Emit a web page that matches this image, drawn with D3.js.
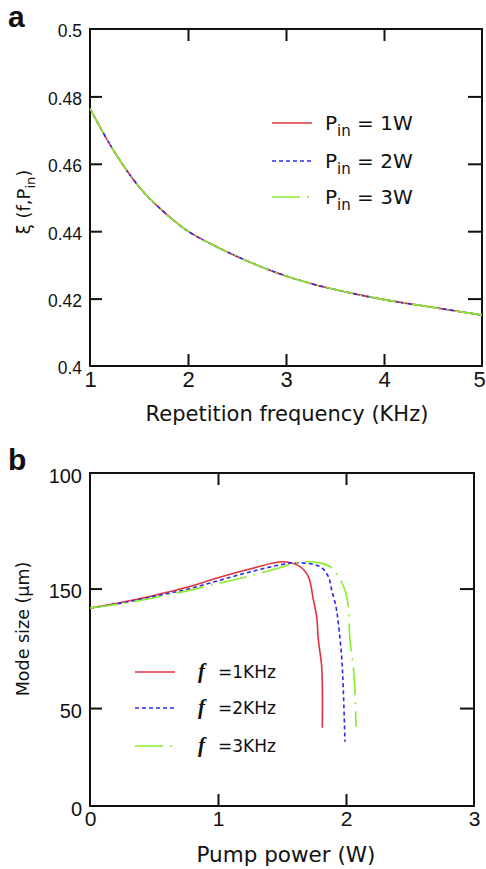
<!DOCTYPE html>
<meta charset="utf-8">
<style>
    body { margin: 0; background: #fff; }
    text { font-family: "DejaVu Sans", sans-serif; fill: #111; }
    .tick text { font-family: "Liberation Sans", Arial, sans-serif; }
    .tick line { stroke: #111; stroke-width: 2; }
    .frame { fill: none; stroke: #111; stroke-width: 2; }
</style>
<body>
<script src="https://cdn.jsdelivr.net/npm/d3@7"></script>
<script>
// panel a: xi(f, Pin) vs repetition frequency
var freq = [1.0, 1.25, 1.5, 1.75, 2.0, 2.25, 2.5, 2.75, 3.0, 3.25, 3.5, 3.75, 4.0, 4.5, 5.0];
var xiP1 = [0.4764, 0.4635, 0.4532, 0.4458, 0.4400, 0.4360, 0.4325, 0.4294, 0.4267, 0.4245, 0.4227, 0.4211, 0.4197, 0.4174, 0.4151];
var xiP2 = [0.4764, 0.4635, 0.4532, 0.4458, 0.4400, 0.4360, 0.4325, 0.4294, 0.4267, 0.4245, 0.4227, 0.4211, 0.4197, 0.4174, 0.4151];
var xiP3 = [0.4764, 0.4635, 0.4532, 0.4458, 0.4400, 0.4360, 0.4325, 0.4294, 0.4267, 0.4245, 0.4227, 0.4211, 0.4197, 0.4174, 0.4151];
var legendA = ["1W", "2W", "3W"];
var xTicksA = [1, 2, 3, 4, 5];
var yTicksA = [0.4, 0.42, 0.44, 0.46, 0.48, 0.5];

// panel b: mode size vs pump power
var powerF1 = [0, 0.25, 0.5, 0.75, 1.0, 1.25, 1.51, 1.641, 1.706, 1.745, 1.771, 1.784, 1.810, 1.815];
var modeF1 = [101, 104, 107.5, 111.5, 116.5, 121, 124.7, 122.2, 117.1, 105.2, 96.6, 84.7, 71.1, 39.9];
var powerF2 = [0, 0.25, 0.5, 0.75, 1.0, 1.25, 1.5, 1.615, 1.797, 1.862, 1.888, 1.922, 1.940, 1.966, 1.979, 1.992];
var modeF2 = [101, 103.6, 107, 110.5, 115, 119.5, 123.3, 124.2, 122.2, 117.1, 110.3, 101.7, 93.3, 76.2, 59.2, 32.8];
var powerF3 = [0, 0.25, 0.5, 0.75, 1.0, 1.25, 1.5, 1.6, 1.706, 1.784, 1.875, 1.940, 1.992, 2.018, 2.031, 2.057, 2.070, 2.078];
var modeF3 = [101, 103.3, 106.3, 109.7, 113.5, 117.5, 122, 124.2, 124.7, 124.2, 122.2, 117.1, 110.3, 101.7, 84.7, 71.1, 59.2, 40.5];
var legendB = ["=1KHz", "=2KHz", "=3KHz"];
var xTicksB = [0, 1, 2, 3];
var yTicksB = [0, 50, 111, 170];
var yTickLabelsB = ["0", "50", "150", "100"];

var colors = ["#e2323c", "#2a2aee", "#86ee2a"];
var dashes = [null, "4,3", "28,7,2,7"];

var svg = d3.select("body").append("svg")
    .attr("width", 486)
    .attr("height", 869);

function panel(o) {
    var x = d3.scaleLinear().domain(o.xDomain).range([o.left, o.right]);
    var y = d3.scaleLinear().domain(o.yDomain).range([o.bottom, o.top]);
    var g = svg.append("g");
    var inner = function (v) { return v > o.xDomain[0] && v < o.xDomain[1]; };
    var innerY = function (v) { return v > o.yDomain[0] && v < o.yDomain[1]; };

    // inward ticks on all four sides
    var bx = g.append("g").attr("transform", "translate(0," + o.bottom + ")")
        .call(d3.axisBottom(x).tickValues(o.xTicks).tickSize(-12).tickPadding(4)
            .tickFormat(d3.format("d")));
    bx.selectAll(".tick text").style("font-size", o.xFont + "px").attr("dy", "0.75em");
    bx.selectAll(".tick text").filter(function (d) { return d === o.xDomain[1]; })
        .attr("dx", o.lastDx || 0);
    bx.selectAll(".tick line").filter(function (d) { return !inner(d); }).remove();

    g.append("g").attr("transform", "translate(0," + o.top + ")")
        .call(d3.axisTop(x).tickValues(o.xTicks.filter(inner)).tickSize(-12).tickFormat(""));

    var ly = g.append("g").attr("transform", "translate(" + o.left + ",0)")
        .call(d3.axisLeft(y).tickValues(o.yTicks).tickSize(-12).tickPadding(8)
            .tickFormat(function (d, i) { return o.yLabels[i]; }));
    ly.selectAll(".tick text").style("font-size", o.yFont + "px").attr("dy", "0.45em");
    ly.selectAll(".tick line").filter(function (d) { return !innerY(d); }).remove();

    g.append("g").attr("transform", "translate(" + o.right + ",0)")
        .call(d3.axisRight(y).tickValues(o.yTicks.filter(innerY)).tickSize(-14).tickFormat(""));

    g.selectAll(".domain").remove();

    g.append("rect").attr("class", "frame")
        .attr("x", o.left).attr("y", o.top)
        .attr("width", o.right - o.left).attr("height", o.bottom - o.top);

    var line = d3.line()
        .x(function (d) { return x(d[0]); })
        .y(function (d) { return y(d[1]); })
        .curve(o.curve);

    o.series.forEach(function (s, i) {
        g.append("path")
            .attr("d", line(d3.zip(s[0], s[1])))
            .attr("fill", "none")
            .attr("stroke", colors[i])
            .attr("stroke-width", 1.6)
            .attr("stroke-dasharray", dashes[i]);
    });
    return g;
}

// ---- panel a ----
var ga = panel({
    left: 90, right: 482, top: 29, bottom: 366,
    xDomain: [1, 5], yDomain: [0.4, 0.5],
    xTicks: xTicksA, yTicks: yTicksA,
    yLabels: yTicksA.map(function (d) { return String(+d.toFixed(2)); }),
    xFont: 22, yFont: 17.5, lastDx: -3,
    curve: d3.curveMonotoneX,
    series: [[freq, xiP1], [freq, xiP2], [freq, xiP3]]
});

legendA.forEach(function (t, i) {
    var yy = [123, 161, 197][i];
    ga.append("line").attr("x1", 272).attr("x2", 312).attr("y1", yy).attr("y2", yy)
        .attr("stroke", colors[i]).attr("stroke-width", 1.6)
        .attr("stroke-dasharray", dashes[i]);
    var tt = ga.append("text").attr("x", 325).attr("y", yy + 7).style("font-size", "20px");
    tt.append("tspan").text("P");
    tt.append("tspan").attr("dy", 6).style("font-size", "15px").text("in");
    tt.append("tspan").attr("dy", -6).text(" = " + t);
});

var ta = ga.append("text").attr("transform", "translate(30,202) rotate(-90)")
    .attr("text-anchor", "middle").style("font-size", "18px");
ta.append("tspan").text("ξ (f,P");
ta.append("tspan").attr("dy", 5).style("font-size", "13px").text("in");
ta.append("tspan").attr("dy", -5).text(")");

ga.append("text").attr("x", 287).attr("y", 421).attr("text-anchor", "middle")
    .style("font-size", "21px").text("Repetition frequency (KHz)");

svg.append("text").attr("x", 8).attr("y", 27)
    .style("font-family", "Liberation Sans, Arial, sans-serif")
    .style("font-weight", "bold").style("font-size", "30px").text("a");

// ---- panel b ----
var gb = panel({
    left: 90, right: 474, top: 473, bottom: 806,
    xDomain: [0, 3], yDomain: [0, 170],
    xTicks: xTicksB, yTicks: yTicksB, yLabels: yTickLabelsB,
    xFont: 21, yFont: 20,
    curve: d3.curveCatmullRom.alpha(0.5),
    series: [[powerF1, modeF1], [powerF2, modeF2], [powerF3, modeF3]]
});

legendB.forEach(function (t, i) {
    var yy = [672, 708, 746][i];
    gb.append("line").attr("x1", 135).attr("x2", 175).attr("y1", yy).attr("y2", yy)
        .attr("stroke", colors[i]).attr("stroke-width", 1.6)
        .attr("stroke-dasharray", dashes[i]);
    gb.append("text").attr("x", 198).attr("y", yy + 6)
        .style("font-family", "Liberation Serif, serif")
        .style("font-weight", "bold").style("font-style", "italic")
        .style("font-size", "21px").text("f");
    gb.append("text").attr("x", 218).attr("y", yy + 6)
        .style("font-size", "17px").text(t);
});

gb.append("text").attr("transform", "translate(29,629) rotate(-90)")
    .attr("text-anchor", "middle").style("font-size", "17.5px").text("Mode size (μm)");

gb.append("text").attr("x", 286).attr("y", 862).attr("text-anchor", "middle")
    .style("font-size", "21.5px").text("Pump power (W)");

svg.append("text").attr("x", 8).attr("y", 470)
    .style("font-family", "Liberation Sans, Arial, sans-serif")
    .style("font-weight", "bold").style("font-size", "30px").text("b");
</script>
</body>
